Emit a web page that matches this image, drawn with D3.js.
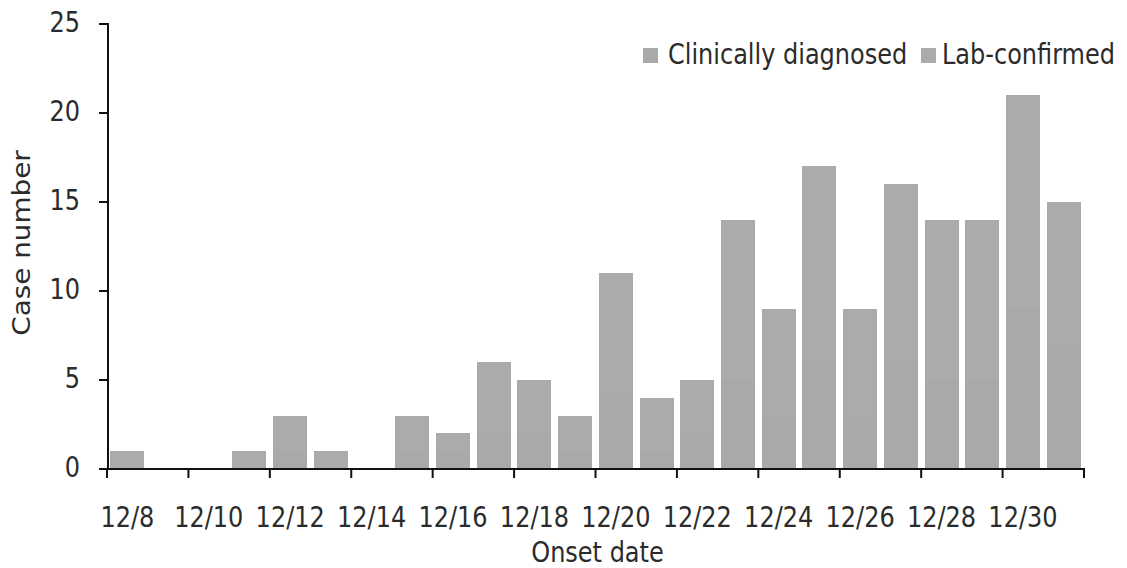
<!DOCTYPE html>
<html>
<head>
<meta charset="utf-8">
<script src="https://cdn.jsdelivr.net/npm/d3@7"></script>
<style>
  html, body { margin: 0; padding: 0; background: #ffffff; }
  svg { display: block; }
  text { font-family: "DejaVu Sans", Verdana, sans-serif; fill: #2b2b2b; }
</style>
</head>
<body>
<svg id="chart" width="1127" height="568"></svg>
<script>
// ---- data ----
const dates = ["12/8","12/9","12/10","12/11","12/12","12/13","12/14","12/15","12/16","12/17","12/18","12/19",
               "12/20","12/21","12/22","12/23","12/24","12/25","12/26","12/27","12/28","12/29","12/30","12/31"];
const totalCases = [1,0,0,1,3,1,0,3,2,6,5,3,11,4,5,14,9,17,9,16,14,14,21,15];
const labConfirmed = [1,0,0,1,2,1,0,2,1,4,3,2,7,3,3,9,6,11,6,10,9,9,12,8];
const clinicallyDiagnosed = totalCases.map((t, i) => t - labConfirmed[i]);
const seriesNames = ["Clinically diagnosed", "Lab-confirmed"];
const yTicks = [0, 5, 10, 15, 20, 25];
const xTickLabels = ["12/8","12/10","12/12","12/14","12/16","12/18","12/20","12/22","12/24","12/26","12/28","12/30"];

// ---- layout ----
const svg = d3.select("#chart");
const mLeft = 107, mRight = 1084, mTop = 24, mBottom = 469;
const colors = ["#a9a9a9", "#ababab"];
const vStretch = 1.16;

const x = d3.scaleBand().domain(dates).range([mLeft, mRight]).paddingInner(0.165).paddingOuter(0.0825);
const y = d3.scaleLinear().domain([0, 25]).range([mBottom, mTop]);

const rows = dates.map((d, i) => ({ date: d, "Clinically diagnosed": clinicallyDiagnosed[i], "Lab-confirmed": labConfirmed[i] }));
const stack = d3.stack().keys(seriesNames)(rows);

// bars
svg.append("g").attr("shape-rendering", "crispEdges")
  .selectAll("g").data(stack).join("g")
  .attr("fill", (d, i) => colors[i])
  .selectAll("rect").data(d => d).join("rect")
  .attr("x", d => x(d.data.date))
  .attr("width", x.bandwidth())
  .attr("y", d => Math.round(y(d[1])))
  .attr("height", d => Math.round(y(d[0])) - Math.round(y(d[1])));

function stretchedText(g, tx, ty, str, anchor, size) {
  return g.append("text")
    .attr("transform", `translate(${tx},${ty}) scale(1,${vStretch})`)
    .attr("text-anchor", anchor)
    .attr("font-size", size)
    .text(str);
}

// y axis
const yAxisG = svg.append("g");
yAxisG.append("line").attr("x1", mLeft + 1).attr("x2", mLeft + 1).attr("y1", y(25) - 1).attr("y2", mBottom + 1)
  .attr("stroke", "#111").attr("stroke-width", 2);
yTicks.forEach(v => {
  yAxisG.append("line").attr("x1", mLeft - 8).attr("x2", mLeft + 1).attr("y1", y(v)).attr("y2", y(v))
    .attr("stroke", "#111").attr("stroke-width", 2);
  stretchedText(yAxisG, 80, y(v) + 8, String(v), "end", 24);
});

// x axis
const xAxisG = svg.append("g");
xAxisG.append("line").attr("x1", mLeft - 4).attr("x2", mRight + 1).attr("y1", mBottom).attr("y2", mBottom)
  .attr("stroke", "#111").attr("stroke-width", 2);
for (let k = 0; k <= dates.length; k += 2) {
  const px = mLeft + k * (mRight - mLeft) / dates.length;
  xAxisG.append("line").attr("x1", px).attr("x2", px).attr("y1", mBottom).attr("y2", mBottom + 9)
    .attr("stroke", "#111").attr("stroke-width", 2);
}
xTickLabels.forEach(lbl => {
  stretchedText(xAxisG, x(lbl) + x.bandwidth() / 2, 527, lbl, "middle", 24);
});

// axis titles
stretchedText(svg, (mLeft + mRight) / 2 + 2, 562, "Onset date", "middle", 24);
svg.append("text")
  .attr("transform", `translate(30,243) rotate(-90) scale(${vStretch},1)`)
  .attr("text-anchor", "middle").attr("font-size", 24).text("Case number");

// legend
const legend = svg.append("g");
const legendItems = [{ name: seriesNames[0], sx: 643, tx: 668 }, { name: seriesNames[1], sx: 921, tx: 942 }];
legendItems.forEach((it, i) => {
  legend.append("rect").attr("x", it.sx).attr("y", 48).attr("width", 15).attr("height", 15).attr("fill", colors[i]);
  stretchedText(legend, it.tx, 64, it.name, "start", 24);
});
</script>
</body>
</html>
